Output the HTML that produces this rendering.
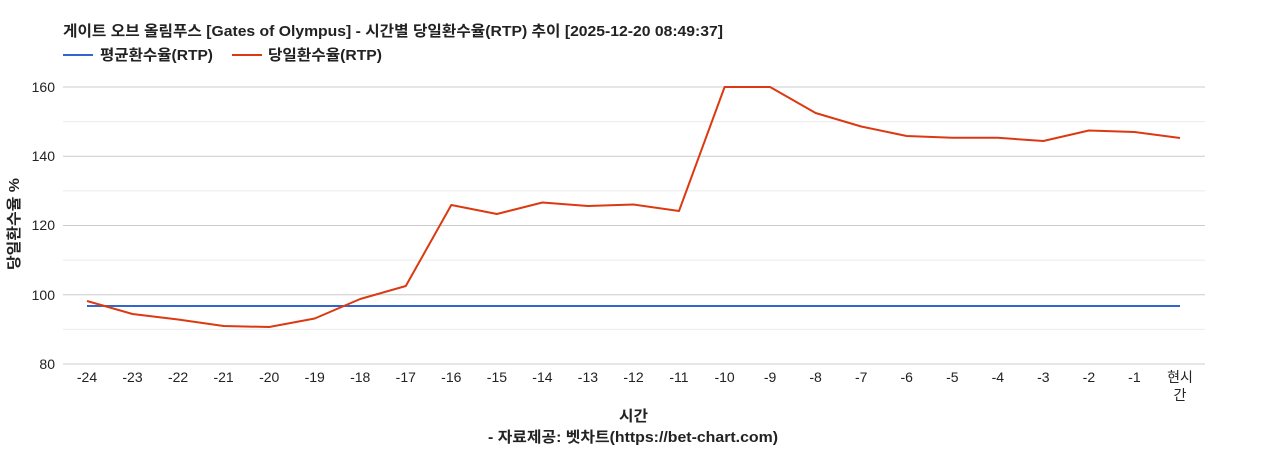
<!DOCTYPE html>
<html><head><meta charset="utf-8"><style>
body{margin:0;background:#fff}
svg{display:block;font-family:"Liberation Sans","Noto Sans CJK KR",sans-serif}
</style></head><body>
<svg width="1268" height="450" viewBox="0 0 1268 450">
<text x="63" y="36" font-size="15" font-weight="bold" fill="#222" textLength="660" lengthAdjust="spacingAndGlyphs">게이트 오브 올림푸스 [Gates of Olympus] - 시간별 당일환수율(RTP) 추이 [2025-12-20 08:49:37]</text>
<line x1="63" y1="55" x2="93" y2="55" stroke="#3366cc" stroke-width="2"/>
<text x="100" y="60" font-size="15" font-weight="bold" fill="#222" textLength="113" lengthAdjust="spacingAndGlyphs">평균환수율(RTP)</text>
<line x1="232" y1="55" x2="262" y2="55" stroke="#dc3912" stroke-width="2"/>
<text x="268" y="60" font-size="15" font-weight="bold" fill="#222" textLength="114" lengthAdjust="spacingAndGlyphs">당일환수율(RTP)</text>
<g stroke="#ebebeb" stroke-width="1">
<line x1="63" x2="1205" y1="121.6" y2="121.6"/><line x1="63" x2="1205" y1="190.9" y2="190.9"/>
<line x1="63" x2="1205" y1="260.1" y2="260.1"/><line x1="63" x2="1205" y1="329.4" y2="329.4"/>
</g>
<g stroke="#cccccc" stroke-width="1">
<line x1="63" x2="1205" y1="87" y2="87"/><line x1="63" x2="1205" y1="156.2" y2="156.2"/>
<line x1="63" x2="1205" y1="225.5" y2="225.5"/><line x1="63" x2="1205" y1="294.8" y2="294.8"/>
<line x1="63" x2="1205" y1="364" y2="364"/>
</g>
<g font-size="14" fill="#222" text-anchor="end">
<text x="55" y="92">160</text><text x="55" y="161">140</text><text x="55" y="230">120</text><text x="55" y="300">100</text><text x="55" y="369">80</text>
</g>
<g font-size="14" fill="#222" text-anchor="middle">
<text x="87" y="382">-24</text><text x="132.5" y="382">-23</text><text x="178.1" y="382">-22</text><text x="223.6" y="382">-21</text><text x="269.2" y="382">-20</text><text x="314.7" y="382">-19</text><text x="360.2" y="382">-18</text><text x="405.8" y="382">-17</text><text x="451.3" y="382">-16</text><text x="496.9" y="382">-15</text><text x="542.4" y="382">-14</text><text x="587.9" y="382">-13</text><text x="633.5" y="382">-12</text><text x="679" y="382">-11</text><text x="724.6" y="382">-10</text><text x="770.1" y="382">-9</text><text x="815.6" y="382">-8</text><text x="861.2" y="382">-7</text><text x="906.7" y="382">-6</text><text x="952.3" y="382">-5</text><text x="997.8" y="382">-4</text><text x="1043.3" y="382">-3</text><text x="1088.9" y="382">-2</text><text x="1134.4" y="382">-1</text><text x="1180" y="382">현시</text><text x="1180" y="400">간</text>
</g>
<text x="619" y="421" font-size="15" font-weight="bold" fill="#222" textLength="29" lengthAdjust="spacingAndGlyphs">시간</text>
<text x="488" y="442" font-size="15" font-weight="bold" fill="#222" textLength="290" lengthAdjust="spacingAndGlyphs">- 자료제공: 벳차트(https://bet-chart.com)</text>
<text transform="translate(19,270) rotate(-90)" font-size="15" font-weight="bold" fill="#222" textLength="92" lengthAdjust="spacingAndGlyphs">당일환수율 %</text>
<line x1="87" x2="1180" y1="306" y2="306" stroke="#3366cc" stroke-width="2"/>
<polyline fill="none" stroke="#dc3912" stroke-width="2" stroke-linejoin="round" points="87,301 132.5,314 178.1,319.5 223.6,326 269.2,327 314.7,318.5 360.2,299 405.8,286 451.3,205 496.9,214 542.4,202.5 587.9,206 633.5,204.5 679,211 724.6,87 770.1,87 815.6,113 861.2,126.5 906.7,136 952.3,137.8 997.8,137.8 1043.3,141 1088.9,130.5 1134.4,132 1180,138"/>
</svg>
</body></html>
